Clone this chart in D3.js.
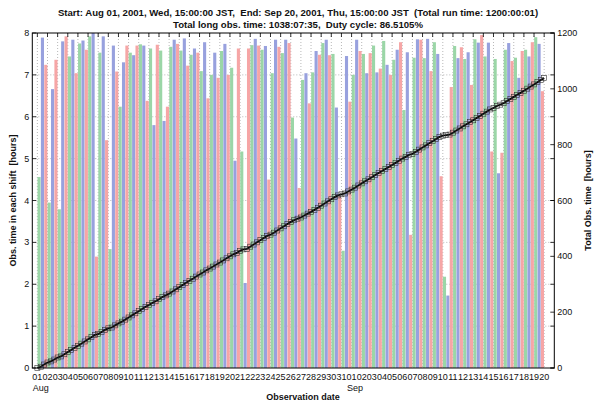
<!DOCTYPE html>
<html lang="en">
<head>
<meta charset="UTF-8">
<title>Observation time per shift</title>
<script src="https://d3js.org/d3.v7.min.js"></script>
<style>
    body { margin: 0; background: #fff; }
    svg text { font-family: "Liberation Sans", Arial, sans-serif; fill: #111; white-space: pre; }
</style>
</head>
<body>
<svg id="chart" width="596" height="403"></svg>
<script>
// date tick labels (one per day boundary, Aug 01 .. Sep 20)
const dayLabels = ["01","02","03","04","05","06","07","08","09","10","11","12","13","14","15","16",
    "17","18","19","20","21","22","23","24","25","26","27","28","29","30","31",
    "01","02","03","04","05","06","07","08","09","10","11","12","13","14","15","16","17","18","19","20"];
const monthLabels = [["Aug", 0], ["Sep", 31]];

// hours observed in each 8h shift, three shifts a day (day 1 .. day 50)
const shiftGreen = [4.56,3.95,3.79,7.44,7.75,7.92,7.53,2.84,6.24,7.53,
    7.73,7.63,7.58,7.67,7.58,7.48,7.09,7.00,7.57,7.17,
    5.17,7.71,7.60,7.04,7.52,5.98,6.88,7.06,7.76,7.50,
    2.80,7.00,7.50,7.70,7.81,7.36,6.16,7.41,7.40,7.78,
    2.18,7.69,7.38,7.85,7.44,7.38,7.60,7.41,7.60,7.90];
const shiftBlue = [7.89,6.66,7.80,7.84,7.82,8.00,7.92,7.70,7.30,7.47,
    7.70,5.80,5.90,7.84,7.87,7.63,7.78,7.53,7.74,4.95,
    2.03,7.86,7.69,7.84,7.84,5.48,7.04,7.57,7.84,6.22,
    7.45,7.84,7.04,7.06,7.24,7.60,7.54,7.85,7.86,7.50,
    1.73,7.40,7.54,7.77,7.77,4.65,7.76,6.93,7.44,7.74];
const shiftPink = [7.24,7.36,7.92,7.04,7.60,2.66,5.44,7.08,7.70,7.70,
    6.38,7.72,6.24,7.74,7.22,7.53,6.44,6.93,7.00,7.63,
    7.63,7.70,4.50,7.67,7.76,4.30,6.32,7.48,7.47,4.10,
    6.36,7.57,7.52,7.15,7.00,7.78,3.18,7.84,7.09,4.58,
    6.71,7.66,6.76,7.95,5.17,5.14,7.33,7.57,7.78,6.61];
const shiftColors = ["#9bd6a7", "#98a1de", "#f6a6a6"];

const shifts = [];
shiftGreen.forEach((g, i) => {
    shifts.push({ i: i * 3, v: g, c: 0 });
    shifts.push({ i: i * 3 + 1, v: shiftBlue[i], c: 1 });
    shifts.push({ i: i * 3 + 2, v: shiftPink[i], c: 2 });
});
let run = 0;
const cumulative = [{ t: 0, v: 0 }].concat(shifts.map(s => { run += s.v; return { t: (s.i + 1) / 3, v: run }; }));

const svg = d3.select("#chart");
const L = 32.3, R = 554.3, T = 33, B = 368;

const x = d3.scaleLinear().domain([-0.5, 51]).range([L, R]);
const yL = d3.scaleLinear().domain([0, 8]).range([B, T]);
const yR = d3.scaleLinear().domain([0, 1200]).range([B, T]);

// grid
svg.append("g").selectAll("line").data(dayLabels).join("line")
    .attr("x1", (d, i) => x(i)).attr("x2", (d, i) => x(i))
    .attr("y1", T).attr("y2", B)
    .attr("stroke", "#888").attr("stroke-width", 0.6).attr("stroke-dasharray", "1,2");
svg.append("g").selectAll("line").data(d3.range(1, 8)).join("line")
    .attr("x1", L).attr("x2", R)
    .attr("y1", d => yL(d)).attr("y2", d => yL(d))
    .attr("stroke", "#888").attr("stroke-width", 0.6).attr("stroke-dasharray", "1,2");

// bars
const slot = x(1 / 3) - x(0);
svg.append("g").selectAll("rect").data(shifts).join("rect")
    .attr("x", d => x(d.i / 3) + slot * 0.04)
    .attr("width", slot * 0.92)
    .attr("y", d => yL(d.v))
    .attr("height", d => B - yL(d.v))
    .attr("fill", d => shiftColors[d.c]);

// cumulative line
svg.append("path").datum(cumulative)
    .attr("fill", "none").attr("stroke", "#000").attr("stroke-width", 1.8)
    .attr("d", d3.line().x(d => x(d.t)).y(d => yR(d.v)));
svg.append("g").selectAll("rect").data(cumulative).join("rect")
    .attr("x", d => x(d.t) - 2.5).attr("y", d => yR(d.v) - 2.5)
    .attr("width", 5).attr("height", 5)
    .attr("fill", "none").attr("stroke", "#333").attr("stroke-width", 0.6);

// axes box
svg.append("rect").attr("x", L).attr("y", T).attr("width", R - L).attr("height", B - T)
    .attr("fill", "none").attr("stroke", "#000").attr("stroke-width", 1);

// tick marks
const tk = svg.append("g").attr("stroke", "#000").attr("stroke-width", 0.8);
tk.selectAll(".tx").data(dayLabels).join("line").attr("class", "tx")
    .attr("x1", (d, i) => x(i)).attr("x2", (d, i) => x(i)).attr("y1", T).attr("y2", T + 4);
tk.selectAll(".tl").data(d3.range(0, 9)).join("line").attr("class", "tl")
    .attr("x1", L).attr("x2", L + 4).attr("y1", d => yL(d)).attr("y2", d => yL(d));
tk.selectAll(".tm").data(d3.range(0, 9)).join("line").attr("class", "tm")
    .attr("x1", R - 4).attr("x2", R).attr("y1", d => yL(d)).attr("y2", d => yL(d));
tk.selectAll(".tr").data(d3.range(0, 1201, 200)).join("line").attr("class", "tr")
    .attr("x1", R - 4).attr("x2", R).attr("y1", d => yR(d)).attr("y2", d => yR(d));

// tick labels
svg.append("g").selectAll("text").data(d3.range(0, 9)).join("text")
    .attr("x", L - 3).attr("y", d => yL(d) + 3).attr("text-anchor", "end")
    .attr("font-size", 9).text(d => d);
svg.append("g").selectAll("text").data(d3.range(0, 1201, 200)).join("text")
    .attr("x", R + 3).attr("y", d => yR(d) + 3).attr("text-anchor", "start")
    .attr("font-size", 9).text(d => d);
svg.append("g").selectAll("text").data(dayLabels).join("text")
    .attr("x", (d, i) => x(i)).attr("y", B + 12).attr("text-anchor", "middle")
    .attr("font-size", 9).text(d => d);
svg.append("g").selectAll("text").data(monthLabels).join("text")
    .attr("x", d => x(d[1]) - 4.5).attr("y", B + 23).attr("font-size", 9).text(d => d[0]);

// titles
svg.append("text").attr("x", 298).attr("y", 16).attr("text-anchor", "middle")
    .attr("font-size", 9.6).attr("font-weight", "bold")
    .text("Start: Aug 01, 2001, Wed, 15:00:00 JST,  End: Sep 20, 2001, Thu, 15:00:00 JST  (Total run time: 1200:00:01)");
svg.append("text").attr("x", 298).attr("y", 27.5).attr("text-anchor", "middle")
    .attr("font-size", 9.6).attr("font-weight", "bold")
    .text("Total long obs. time: 1038:07:35,  Duty cycle: 86.5105%");
svg.append("text").attr("x", 303).attr("y", 400).attr("text-anchor", "middle")
    .attr("font-size", 9).attr("font-weight", "bold").text("Observation date");
svg.append("text").attr("transform", "translate(16," + (T + B) / 2 + ") rotate(-90)")
    .attr("text-anchor", "middle").attr("font-size", 9).attr("font-weight", "bold")
    .text("Obs. time in each shift  [hours]");
svg.append("text").attr("transform", "translate(591," + (T + B) / 2 + ") rotate(-90)")
    .attr("text-anchor", "middle").attr("font-size", 9).attr("font-weight", "bold")
    .text("Total Obs. time  [hours]");
</script>
</body>
</html>
